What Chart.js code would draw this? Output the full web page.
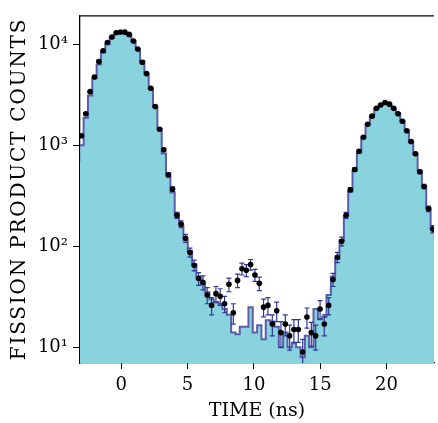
<!DOCTYPE html>
<html>
<head>
<meta charset="utf-8">
<title>Fission product counts vs time</title>
<script src="https://cdn.jsdelivr.net/npm/chart.js@4.4.1/dist/chart.umd.min.js"></script>
<style>
  html, body { margin: 0; padding: 0; background: #fff; }
  #chart { display: block; }
</style>
</head>
<body>
<canvas id="chart" width="438" height="423"></canvas>
<script>
// bin centres in ns (first and last bin sit just outside the visible window)
const times = [
  -3.33, -3.00, -2.67, -2.35, -2.02, -1.69, -1.37, -1.04, -0.71, -0.38,
  -0.06, 0.27, 0.60, 0.92, 1.25, 1.58, 1.91, 2.23, 2.56, 2.89,
  3.21, 3.54, 3.87, 4.19, 4.52, 4.85, 5.18, 5.50, 5.83, 6.16,
  6.48, 6.81, 7.14, 7.46, 7.79, 8.12, 8.45, 8.77, 9.10, 9.43,
  9.75, 10.08, 10.41, 10.73, 11.06, 11.39, 11.72, 12.04, 12.37, 12.70,
  13.02, 13.35, 13.68, 14.00, 14.33, 14.66, 14.99, 15.31, 15.64, 15.97,
  16.29, 16.62, 16.95, 17.27, 17.60, 17.93, 18.26, 18.58, 18.91, 19.24,
  19.56, 19.89, 20.22, 20.54, 20.87, 21.20, 21.53, 21.85, 22.18, 22.51,
  22.83, 23.16, 23.49, 23.81
];

// simulated spectrum (histogram)
const histCounts = [
  700, 1000, 1870, 3100, 4600, 6300, 8300, 10000, 11600, 12600,
  13000, 12900, 12200, 10700, 8800, 6800, 5000, 3600, 2400, 1450,
  830, 530, 340, 210, 160, 115, 90, 66, 50, 42,
  35, 30, 28, 27, 24, 21, 14, 13.5, 16, 16,
  25, 14, 16.5, 12, 18.5, 18, 16, 10, 14, 10,
  11, 10, 8, 13, 10, 24, 19, 20, 33, 50,
  75, 115, 200, 350, 560, 850, 1200, 1600, 1950, 2300,
  2500, 2600, 2550, 2300, 2050, 1730, 1380, 1080, 820, 550,
  390, 240, 150, 100
];

// measured counts and their errors
const counts = [
  null, 1240, 2050, 3390, 4740, 6730, 8610, 10400, 11800, 12970,
  13200, 13160, 12500, 10760, 8940, 6620, 5120, 3660, 2420, 1440,
  900, 507, 368, 203, 166, 120, 87, 65, 48, 44,
  33, 26, 34, 32, 27, 42, 22, 46, 60, 58,
  66, 52, 43, 25, 26, 17, 23, 14, 17, 13,
  15, 15, 9, 20, 14, 13, 24, 17, 26, 47,
  78, 112, 203, 362, 575, 870, 1200, 1610, 1940, 2320,
  2500, 2650, 2550, 2320, 2050, 1730, 1390, 1090, 824, 547,
  391, 235, 148, null
];

const countErrors = [
  null, 35, 45, 58, 69, 82, 93, 102, 108, 114,
  115, 115, 112, 104, 95, 81, 72, 60, 49, 38,
  30, 22, 19, 14, 13, 11, 9, 8, 7, 7,
  6, 5, 6, 6, 5, 6.5, 5, 7, 8, 8,
  8, 7, 6.5, 5, 5, 4, 5, 4, 4, 3.6,
  3.8, 3.8, 3, 4.5, 3.7, 3.6, 5, 4, 5, 7,
  9, 11, 14, 19, 24, 29, 35, 40, 44, 48,
  50, 51, 50, 48, 45, 42, 37, 33, 29, 23,
  20, 15, 12, null
];

const xTicks = [0, 5, 10, 15, 20];
const yTicks = [10, 100, 1000, 10000];
const yTickLabels = ['10\u00B9', '10\u00B2', '10\u00B3', '10\u2074'];
const yTitle = 'FISSION PRODUCT COUNTS';

const SERIF = "'DejaVu Serif', 'Liberation Serif', serif";

// vertical error bars under the data points
const errorBars = {
  id: 'errorBars',
  beforeDatasetDraw(chart, args) {
    if (args.index !== 1) return;
    const { ctx, chartArea, scales: { x, y } } = chart;
    ctx.save();
    ctx.beginPath();
    ctx.rect(chartArea.left, chartArea.top, chartArea.width, chartArea.height);
    ctx.clip();
    ctx.strokeStyle = '#2f3996';
    ctx.lineWidth = 1.2;
    counts.forEach((c, i) => {
      if (c == null) return;
      const e = countErrors[i];
      const px = x.getPixelForValue(times[i]);
      const lo = y.getPixelForValue(Math.max(c - e, 0.5));
      const hi = y.getPixelForValue(c + e);
      ctx.beginPath();
      ctx.moveTo(px, lo); ctx.lineTo(px, hi);
      ctx.moveTo(px - 2.5, lo); ctx.lineTo(px + 2.5, lo);
      ctx.moveTo(px - 2.5, hi); ctx.lineTo(px + 2.5, hi);
      ctx.stroke();
    });
    ctx.restore();
  }
};

// top frame line and the (letter-spaced) y axis title
const frameAndTitle = {
  id: 'frameAndTitle',
  afterDraw(chart) {
    const { ctx, chartArea } = chart;
    ctx.save();
    ctx.strokeStyle = '#000';
    ctx.lineWidth = 1.3;
    ctx.beginPath();
    ctx.moveTo(chartArea.left, chartArea.top);
    ctx.lineTo(chartArea.right, chartArea.top);
    ctx.stroke();

    ctx.translate(20, 190);
    ctx.rotate(-Math.PI / 2);
    ctx.font = '20px ' + SERIF;
    ctx.letterSpacing = '1.8px';
    ctx.fillStyle = '#000';
    ctx.textAlign = 'center';
    ctx.textBaseline = 'middle';
    ctx.fillText(yTitle, 1, 0);
    ctx.restore();
  }
};

new Chart(document.getElementById('chart'), {
  type: 'line',
  data: {
    datasets: [
      {
        label: 'simulation',
        data: times.map((t, i) => ({ x: t, y: histCounts[i] })),
        stepped: 'middle',
        borderColor: '#5a5ea8',
        borderWidth: 2,
        backgroundColor: '#89d3df',
        fill: 'start',
        pointRadius: 0,
        order: 2
      },
      {
        label: 'data',
        data: times.map((t, i) => ({ x: t, y: counts[i] })),
        showLine: false,
        pointRadius: 2.8,
        pointBackgroundColor: '#000',
        pointBorderWidth: 0,
        order: 1
      }
    ]
  },
  options: {
    responsive: false,
    animation: false,
    layout: { padding: { left: 0, top: 9, right: 0, bottom: 0 } },
    plugins: { legend: { display: false }, tooltip: { enabled: false } },
    scales: {
      x: {
        type: 'linear',
        min: -3.11,
        max: 23.58,
        afterBuildTicks: s => { s.ticks = xTicks.map(v => ({ value: v })); },
        afterFit: s => { s.height = 60; },
        grid: { drawOnChartArea: false, drawTicks: true, tickLength: 6, color: '#000', lineWidth: 1 },
        border: { display: true, color: '#000', width: 1.3 },
        ticks: { color: '#000', padding: 6, maxRotation: 0, font: { family: SERIF, size: 18 } },
        title: {
          display: true, text: 'TIME (ns)', color: '#000',
          padding: { top: 0, bottom: 1 },
          font: { family: SERIF, size: 19 }
        }
      },
      y: {
        type: 'logarithmic',
        min: 7.0,
        max: 19100,
        afterBuildTicks: s => { s.ticks = yTicks.map(v => ({ value: v })); },
        afterFit: s => { s.width = 80; },
        grid: { drawOnChartArea: false, drawTicks: true, tickLength: 7, color: '#000', lineWidth: 1 },
        border: { display: true, color: '#000', width: 1.3 },
        ticks: {
          color: '#000', padding: 5,
          font: { family: SERIF, size: 18 },
          callback: (v, i) => yTickLabels[i]
        },
        title: { display: false }
      }
    }
  },
  plugins: [errorBars, frameAndTitle]
});
</script>
</body>
</html>
